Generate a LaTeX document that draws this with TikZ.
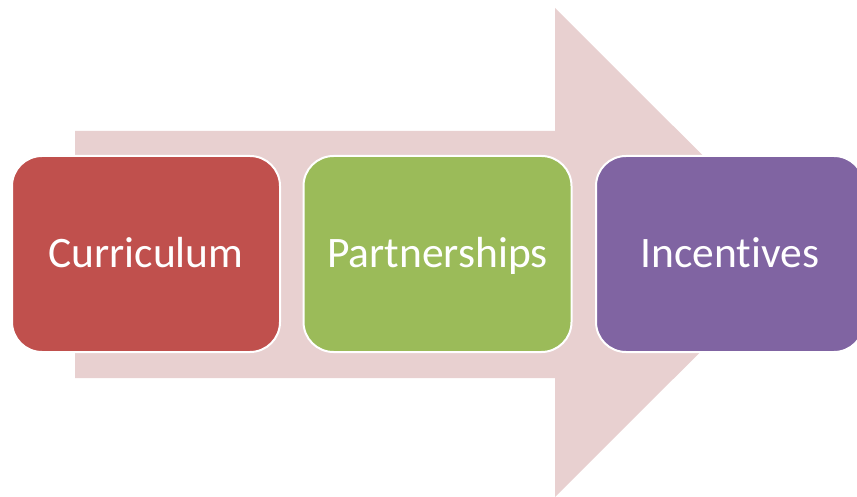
\documentclass[tikz,border=0pt]{standalone}
\usepackage{fontspec}
\setmainfont{Carlito}[Ligatures=NoCommon]
\definecolor{arrowpink}{RGB}{232,208,208}
\definecolor{boxred}{RGB}{192,80,77}
\definecolor{boxgreen}{RGB}{155,187,89}
\definecolor{boxpurple}{RGB}{128,100,162}
\tikzset{
  stagebox/.style={draw=white, line width=2pt, rounded corners=30pt,
    minimum width=268pt, minimum height=196pt, inner sep=0pt,
    text height=28pt, text depth=0pt,
    text=white, font=\fontsize{43.5}{52}\selectfont},
}
\begin{document}
\begin{tikzpicture}[x=1pt,y=-1pt]
                \useasboundingbox (0,0) rectangle (857,497);
                \clip (0,0) rectangle (857,497);
                \coordinate (S1) at (75,131);
                \coordinate (S2) at (555,131);
                \coordinate (H1) at (555,8);
                \coordinate (T) at (800,252.5);
                \coordinate (H2) at (555,497);
                \coordinate (S3) at (555,378);
                \coordinate (S4) at (75,378);
                \fill[arrowpink] (S1) -- (S2) -- (H1) -- (T) -- (H2) -- (S3) -- (S4) -- cycle;
                \node[stagebox, fill=boxred] (curr) at (146,254) {Curriculum};
                \node[stagebox, fill=boxgreen] (part) at (437.5,254) {Partnerships};
                \node[stagebox, fill=boxpurple] (inc) at (730,254) {Incentives};
            \end{tikzpicture}
\end{document}
